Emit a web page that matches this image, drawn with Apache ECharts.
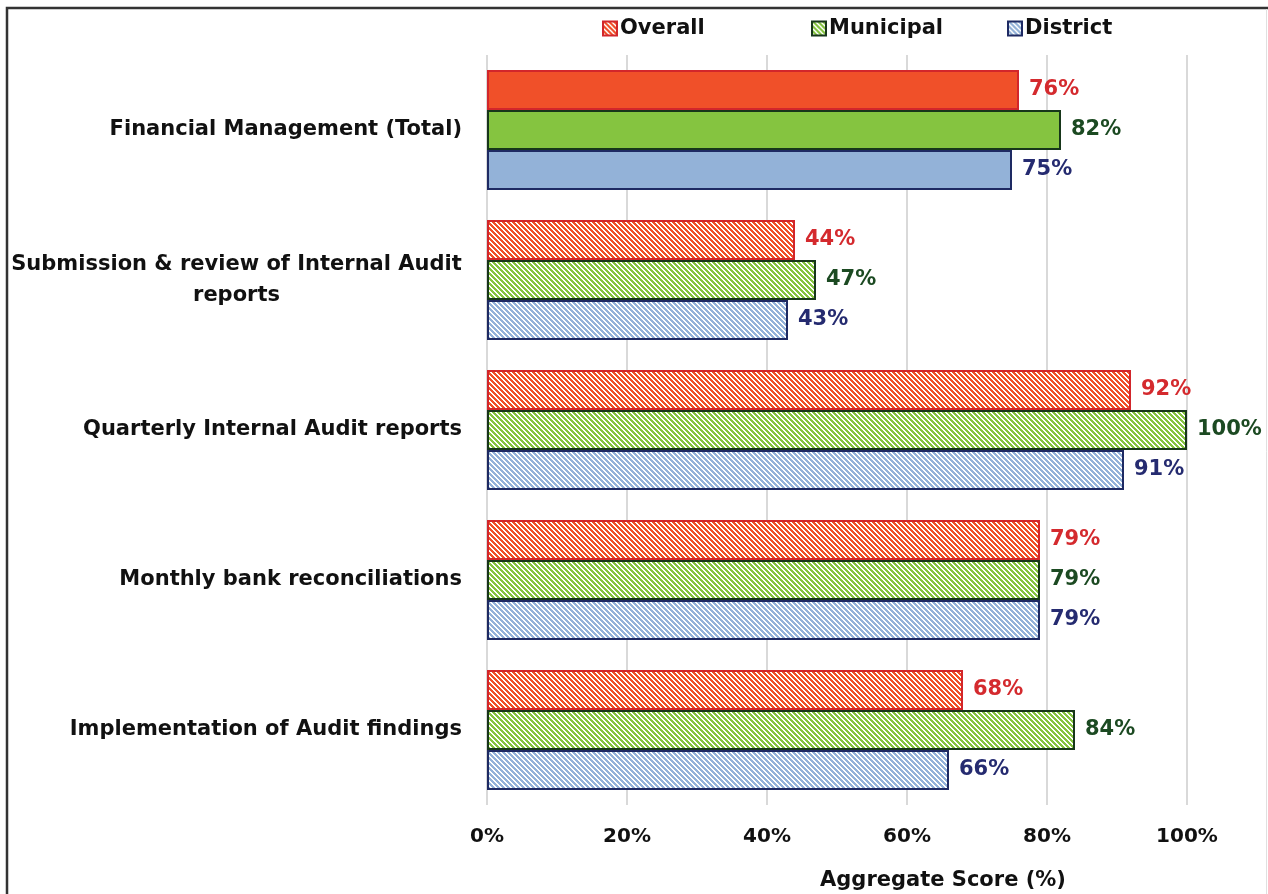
<!DOCTYPE html>
<html>
<head>
<meta charset="utf-8">
<style>
  html, body { margin: 0; padding: 0; background: #ffffff; }
  #chart { width: 1268px; height: 894px; }
</style>
<script src="https://cdn.jsdelivr.net/npm/echarts@6/dist/echarts.min.js"></script>
</head>
<body>
<div id="chart"></div>
<script>
// Categories, top to bottom
const categories = [
  'Financial Management (Total)',
  'Submission & review of Internal Audit reports',
  'Quarterly Internal Audit reports',
  'Monthly bank reconciliations',
  'Implementation of Audit findings'
];
// Aggregate scores (%)
const overall   = [76, 44, 92, 79, 68];
const municipal = [82, 47, 100, 79, 84];
const district  = [75, 43, 91, 79, 66];
const xTicks = [0, 20, 40, 60, 80, 100];
const seriesNames = ['Overall', 'Municipal', 'District'];

const FONT = '"DejaVu Sans", sans-serif';
const LABEL_SIZE = 21;
const WRAP_WIDTH = 470;

// Diagonal hatch tile ("\" stripes) used for the non-total rows
function hatch(color) {
  const size = 20, period = 5, band = 3;
  const c = document.createElement('canvas');
  c.width = size; c.height = size;
  const ctx = c.getContext('2d');
  ctx.fillStyle = '#ffffff';
  ctx.fillRect(0, 0, size, size);
  ctx.fillStyle = color;
  for (let y = 0; y < size; y++) {
    for (let x = 0; x < size; x++) {
      if ((((x - y) % period) + period) % period < band) ctx.fillRect(x, y, 1, 1);
    }
  }
  return { image: c, repeat: 'repeat' };
}

const styles = [
  { fill: '#F05029', border: '#D2262B', label: '#D42A2E' },
  { fill: '#85C440', border: '#17361A', label: '#1C4A22' },
  { fill: '#93B2D8', border: '#1E2A63', label: '#252B70' }
];
const values = [overall, municipal, district];

// Wrap long category names and centre each line under the widest one
const measureCtx = document.createElement('canvas').getContext('2d');
measureCtx.font = 'bold ' + LABEL_SIZE + 'px ' + FONT;
function wrapLabel(text, maxW) {
  const words = text.split(' ');
  const lines = [];
  let cur = '';
  words.forEach(w => {
    const t = cur ? cur + ' ' + w : w;
    if (cur && measureCtx.measureText(t).width > maxW) { lines.push(cur); cur = w; }
    else cur = t;
  });
  if (cur) lines.push(cur);
  return lines;
}
const wrapBoxWidth = Math.max(1, ...categories.map(c => {
  const ls = wrapLabel(c, WRAP_WIDTH);
  return ls.length > 1 ? Math.max(...ls.map(l => Math.ceil(measureCtx.measureText(l).width))) : 0;
}));

const chart = echarts.init(document.getElementById('chart'), null, { renderer: 'canvas' });

const series = seriesNames.map((name, i) => ({
  name: name,
  type: 'bar',
  barWidth: 40,
  barGap: '0%',
  barCategoryGap: '20%',
  itemStyle: {
    color: hatch(styles[i].fill),
    borderColor: styles[i].border,
    borderWidth: 2
  },
  label: {
    show: true,
    position: 'right',
    distance: 10,
    formatter: '{c}%',
    color: styles[i].label,
    fontFamily: FONT,
    fontWeight: 'bold',
    fontSize: 21
  },
  data: values[i].map((v, j) => j === 0
    ? { value: v, itemStyle: { color: styles[i].fill } }
    : v)
}));

const legendX = [597, 806, 1002];
const legends = seriesNames.map((name, i) => ({
  data: [{ name: name, icon: 'rect' }],
  left: legendX[i],
  top: 13,
  itemWidth: 14,
  itemHeight: 14,
  itemGap: 6,
  selectedMode: false,
  textStyle: { fontFamily: FONT, fontWeight: 'bold', fontSize: 21, color: '#111111', padding: [0, 0, 0, -2] }
}));

chart.setOption({
  animation: false,
  backgroundColor: '#ffffff',
  legend: legends,
  grid: { left: 487, right: 81, top: 55, bottom: 89, containLabel: false },
  xAxis: {
    type: 'value',
    min: 0,
    max: 100,
    interval: 20,
    axisLine: { show: false },
    axisTick: { show: false },
    splitLine: { show: true, lineStyle: { color: '#D9D9D9', width: 2 } },
    axisLabel: {
      margin: 22,
      formatter: v => xTicks.includes(v) ? v + '%' : '',
      fontFamily: FONT, fontWeight: 'bold', fontSize: 20, color: '#111111'
    }
  },
  yAxis: {
    type: 'category',
    inverse: true,
    data: categories,
    axisLine: { show: false },
    axisTick: { show: false },
    axisLabel: {
      margin: 25,
      color: '#111111',
      fontFamily: FONT, fontWeight: 'bold', fontSize: LABEL_SIZE,
      formatter: v => {
        const lines = wrapLabel(v, WRAP_WIDTH);
        if (lines.length === 1) return v;
        return lines.map(l => '{c|' + l + '}').join('\n');
      },
      rich: {
        c: {
          width: wrapBoxWidth,
          align: 'center',
          fontFamily: FONT, fontWeight: 'bold', fontSize: LABEL_SIZE, color: '#111111',
          lineHeight: 31
        }
      }
    }
  },
  series: series,
  graphic: [
    {
      type: 'rect',
      silent: true,
      z: -10,
      shape: { x: 7, y: 8, width: 1300, height: 1000 },
      style: { fill: 'none', stroke: '#333333', lineWidth: 2.5 }
    },
    {
      type: 'line',
      silent: true,
      shape: { x1: 1266.5, y1: 9, x2: 1266.5, y2: 894 },
      style: { stroke: '#E0E0E0', lineWidth: 1 }
    },
    {
      type: 'text',
      silent: true,
      x: 943, y: 881,
      style: {
        text: 'Aggregate Score (%)',
        align: 'center', verticalAlign: 'middle',
        fontFamily: FONT, fontWeight: 'bold', fontSize: 21, fill: '#111111'
      }
    }
  ]
});
</script>
</body>
</html>
